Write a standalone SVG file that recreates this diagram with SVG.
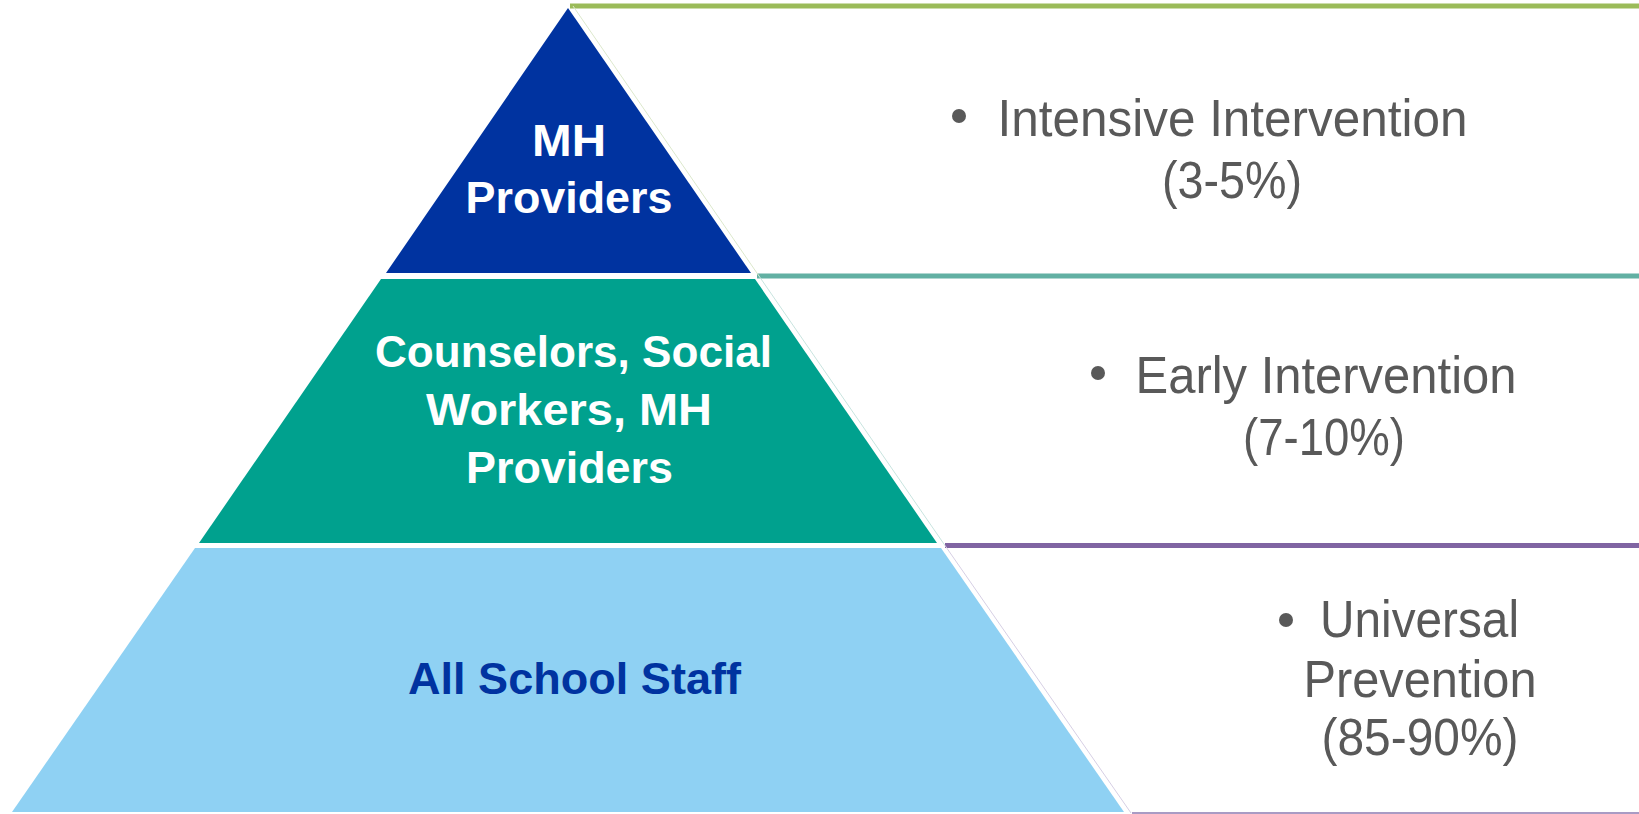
<svg xmlns="http://www.w3.org/2000/svg" width="1639" height="814" viewBox="0 0 1639 814">
  <style>
    .tier-label { font-family: "Liberation Sans", Arial, sans-serif; font-weight: bold; font-size: 45px; text-anchor: middle; }
    .white { fill: #FFFFFF; }
    .navy { fill: #0033A0; }
    .desc { font-family: "Liberation Sans", Arial, sans-serif; font-size: 52px; fill: #595959; text-anchor: middle; }
    .bullet { fill: #595959; }
    .band { fill: none; stroke-width: 5; }
    .edge { fill: none; stroke-width: 1; }
  </style>
  <rect x="0" y="0" width="1639" height="814" fill="#FFFFFF"/>

  <g id="connectors">
    <line class="band" x1="570" y1="6" x2="1639" y2="6" stroke="#9BBB59"/>
    <line class="band" x1="757" y1="276" x2="1639" y2="276" stroke="#62B0A3"/>
    <line class="band" x1="945" y1="545.5" x2="1639" y2="545.5" stroke="#8064A2"/>
    <line x1="1132" y1="813" x2="1639" y2="813" stroke="#A99BC4" stroke-width="2"/>
    <line class="edge" x1="573" y1="6" x2="759" y2="276" stroke="#DCE8CC"/>
    <line class="edge" x1="759" y1="276" x2="945" y2="545.5" stroke="#C8E4DF"/>
    <line class="edge" x1="945" y1="545.5" x2="1131" y2="813" stroke="#D6CFE4"/>
  </g>

  <g id="tier-top">
    <polygon points="568,8 751,273 386,273" fill="#0033A0"/>
    <text class="tier-label white" x="569" y="156" textLength="74" lengthAdjust="spacingAndGlyphs">MH</text>
    <text class="tier-label white" x="569" y="213" textLength="207" lengthAdjust="spacingAndGlyphs">Providers</text>
  </g>

  <g id="tier-middle">
    <polygon points="381,279 755,279 937,543 199,543" fill="#00A18E"/>
    <text class="tier-label white" x="573.5" y="367" textLength="397" lengthAdjust="spacingAndGlyphs">Counselors, Social</text>
    <text class="tier-label white" x="569" y="425" textLength="286" lengthAdjust="spacingAndGlyphs">Workers, MH</text>
    <text class="tier-label white" x="569.5" y="483" textLength="207" lengthAdjust="spacingAndGlyphs">Providers</text>
  </g>

  <g id="tier-bottom">
    <polygon points="195,548 941,548 1124,812 12,812" fill="#8FD1F3"/>
    <text class="tier-label navy" x="574.5" y="694" textLength="333" lengthAdjust="spacingAndGlyphs">All School Staff</text>
  </g>

  <g id="desc-intensive">
    <circle class="bullet" cx="959" cy="116" r="7"/>
    <text class="desc" x="1232.5" y="136" textLength="470" lengthAdjust="spacingAndGlyphs">Intensive Intervention</text>
    <text class="desc" x="1232" y="198" textLength="140" lengthAdjust="spacingAndGlyphs">(3-5%)</text>
  </g>

  <g id="desc-early">
    <circle class="bullet" cx="1098" cy="373" r="7"/>
    <text class="desc" x="1326" y="393" textLength="381" lengthAdjust="spacingAndGlyphs">Early Intervention</text>
    <text class="desc" x="1324" y="455" textLength="162" lengthAdjust="spacingAndGlyphs">(7-10%)</text>
  </g>

  <g id="desc-universal">
    <circle class="bullet" cx="1286" cy="620" r="7"/>
    <text class="desc" x="1419.5" y="637" textLength="199" lengthAdjust="spacingAndGlyphs">Universal</text>
    <text class="desc" x="1420" y="697" textLength="233" lengthAdjust="spacingAndGlyphs">Prevention</text>
    <text class="desc" x="1420" y="755" textLength="197" lengthAdjust="spacingAndGlyphs">(85-90%)</text>
  </g>
</svg>
